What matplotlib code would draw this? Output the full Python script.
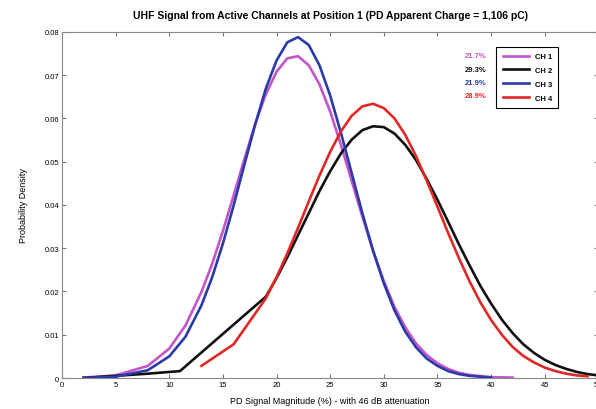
import matplotlib
matplotlib.use("Agg")
import matplotlib.pyplot as plt

plt.rcParams["font.family"] = ["Liberation Sans", "DejaVu Sans"]

# 값은 그림에서 읽어 옮김
ch1_x = [2, 5, 8, 10, 11.5, 13, 14, 15, 16, 17, 18, 19, 20, 21, 22, 23, 24, 25, 26, 27, 28,
         29, 30, 31, 32, 33, 34, 35, 36, 37, 38, 40, 42]
ch1_y = [0.0001, 0.0006, 0.0028, 0.0068, 0.0121, 0.0199, 0.0264, 0.0340, 0.0422, 0.0506,
         0.0587, 0.0656, 0.0708, 0.0739, 0.0744, 0.0723, 0.0679, 0.0616, 0.0539, 0.0456,
         0.0373, 0.0294, 0.0224, 0.0164, 0.0117, 0.0080, 0.0053, 0.0034, 0.0021, 0.0012,
         0.0007, 0.0002, 0.0001]
ch3_x = [2, 5, 8, 10, 11.5, 13, 14, 15, 16, 17, 18, 19, 20, 21, 22, 23, 24, 25, 26, 27, 28,
         29, 30, 31, 32, 33, 34, 35, 36, 37, 38, 40]
ch3_y = [0.0000, 0.0003, 0.0018, 0.0050, 0.0095, 0.0168, 0.0233, 0.0311, 0.0399, 0.0493,
         0.0585, 0.0669, 0.0734, 0.0776, 0.0788, 0.0770, 0.0723, 0.0653, 0.0567, 0.0474,
         0.0381, 0.0294, 0.0219, 0.0156, 0.0107, 0.0071, 0.0045, 0.0028, 0.0016, 0.0009,
         0.0005, 0.0001]
ch2_x = [2, 5, 8, 11, 19, 20, 21, 22, 23, 24, 25, 26, 27, 28, 29, 30, 31, 32, 33, 34, 35,
         36, 37, 38, 39, 40, 41, 42, 43, 44, 45, 46, 47, 48, 49, 50]
ch2_y = [0.0000, 0.0005, 0.0010, 0.0016, 0.0188, 0.0231, 0.0279, 0.0330, 0.0381, 0.0432,
         0.0478, 0.0519, 0.0551, 0.0573, 0.0582, 0.0580, 0.0565, 0.0539, 0.0504, 0.0460,
         0.0412, 0.0361, 0.0309, 0.0260, 0.0213, 0.0172, 0.0135, 0.0104, 0.0078, 0.0058,
         0.0042, 0.0030, 0.0021, 0.0014, 0.0009, 0.0006]
ch4_x = [13, 16, 19, 20, 21, 22, 23, 24, 25, 26, 27, 28, 29, 30, 31, 32, 33, 34, 35, 36,
         37, 38, 39, 40, 41, 42, 43, 44, 45, 46, 47, 48, 49]
ch4_y = [0.0028, 0.0078, 0.0184, 0.0233, 0.0288, 0.0347, 0.0408, 0.0468, 0.0523, 0.0570,
         0.0606, 0.0628, 0.0634, 0.0624, 0.0600, 0.0562, 0.0513, 0.0456, 0.0396, 0.0335,
         0.0277, 0.0223, 0.0175, 0.0134, 0.0100, 0.0072, 0.0051, 0.0036, 0.0024, 0.0016,
         0.0010, 0.0006, 0.0004]

labels = ["CH 1", "CH 2", "CH 3", "CH 4"]
pcts = ["21.7%", "29.3%", "21.9%", "28.9%"]
colors = ["#c455c8", "#111111", "#2a3aa8", "#e02828"]
xs = [ch1_x, ch2_x, ch3_x, ch4_x]
ys = [ch1_y, ch2_y, ch3_y, ch4_y]

fig = plt.figure(figsize=(5.96, 4.10), dpi=100)
ax = fig.add_axes((0.104, 0.0756, 0.9, 0.844))
for x, y, c, lab in zip(xs, ys, colors, labels):
    ax.plot(x, y, color=c, lw=1.9, label=lab)

ax.set_xlim(0, 50); ax.set_ylim(0, 0.08)
ax.set_xticks(range(0, 51, 5))
ax.set_yticks([0, 0.01, 0.02, 0.03, 0.04, 0.05, 0.06, 0.07, 0.08])
ax.set_yticklabels(["0", "0.01", "0.02", "0.03", "0.04", "0.05", "0.06", "0.07", "0.08"])
ax.tick_params(direction="in", length=3, labelsize=5.5, top=True, right=True, color="#777777", pad=2)
for s in ax.spines.values(): s.set_color("#888888"); s.set_linewidth(0.8)

ax.set_title("UHF Signal from Active Channels at Position 1 (PD Apparent Charge = 1,106 pC)",
             fontsize=7.5, weight="bold", pad=10)
ax.set_xlabel("PD Signal Magnitude (%) - with 46 dB attenuation", fontsize=6.5, labelpad=6)
ax.set_ylabel("Probability Density", fontsize=6.5, labelpad=12)

leg = ax.legend(loc="upper left", bbox_to_anchor=(0.81, 0.957), borderaxespad=0, fancybox=False,
                edgecolor="black", framealpha=1, prop={"size": 5.5, "weight": "bold"},
                handlelength=3.4, labelspacing=0.85, borderpad=0.8)
leg.get_frame().set_linewidth(0.8)

for i, (p, c) in enumerate(zip(pcts, colors)):
    ax.text(39.6, 0.0745 - i * 0.0031, p, color=c, fontsize=5.5, weight="bold", ha="right", va="center")

fig.savefig("out.png", dpi=100)
